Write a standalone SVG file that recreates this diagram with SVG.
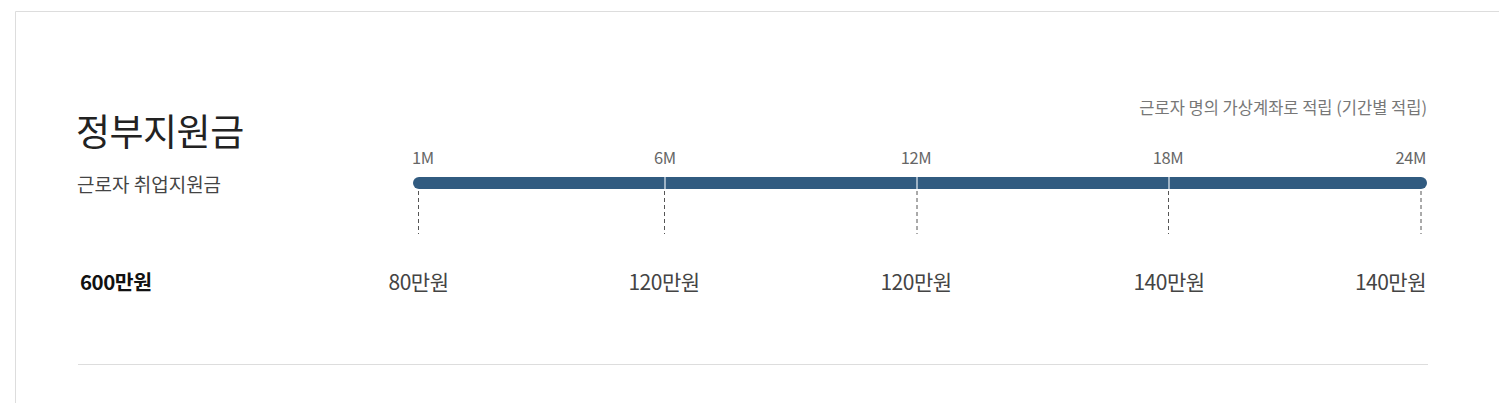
<svg xmlns="http://www.w3.org/2000/svg" width="1499" height="403" viewBox="0 0 1499 403">
<style>
text{font-family:"Noto Sans CJK KR","Noto Sans",sans-serif}
.m{font-size:16.5px;fill:#666;letter-spacing:-0.4px}
.amt{font-size:21px;fill:#444;text-anchor:middle;letter-spacing:-0.5px}
.dash{stroke:#555;stroke-width:1;stroke-dasharray:4 3}
.div{stroke:#e8eef4;stroke-width:1.2}
</style>
<rect x="0" y="0" width="1499" height="403" fill="#fff"/>
<g id="frame">
<path d="M15.5 403 V11.5 H1499" fill="none" stroke="#ddd" stroke-width="1"/>
<line x1="78" y1="364.5" x2="1428" y2="364.5" stroke="#ddd" stroke-width="1.2"/>
</g>
<g id="title">
<text x="76" y="146" font-size="37" fill="#222" letter-spacing="-0.5">정부지원금</text>
<text x="77" y="192" font-size="19" fill="#444">근로자 취업지원금</text>
<text x="80" y="290" font-size="20.5" font-weight="bold" fill="#111" letter-spacing="-0.5">600만원</text>
</g>
<g id="note">
<text x="1427" y="114" font-size="16.5" fill="#777" text-anchor="end">근로자 명의 가상계좌로 적립 (기간별 적립)</text>
</g>
<g id="bar">
<rect x="413" y="177" width="1014" height="12" rx="6" fill="#315b80"/>
<line class="div" x1="665" y1="177" x2="665" y2="189"/>
<line class="div" x1="917" y1="177" x2="917" y2="189"/>
<line class="div" x1="1169" y1="177" x2="1169" y2="189"/>
</g>
<g id="connectors">
<line class="dash" x1="418.5" y1="191" x2="418.5" y2="234"/>
<line class="dash" x1="664.5" y1="191" x2="664.5" y2="234"/>
<line class="dash" x1="917" y1="191" x2="917" y2="234"/>
<line class="dash" x1="1168.5" y1="191" x2="1168.5" y2="234"/>
<line class="dash" x1="1421" y1="191" x2="1421" y2="234"/>
</g>
<g id="tick-1m"><text class="m" x="412" y="164">1M</text><text class="amt" x="418.5" y="290">80만원</text></g>
<g id="tick-6m"><text class="m" x="665" y="164" text-anchor="middle">6M</text><text class="amt" x="664" y="290">120만원</text></g>
<g id="tick-12m"><text class="m" x="916" y="164" text-anchor="middle">12M</text><text class="amt" x="916" y="290">120만원</text></g>
<g id="tick-18m"><text class="m" x="1168" y="164" text-anchor="middle">18M</text><text class="amt" x="1169" y="290">140만원</text></g>
<g id="tick-24m"><text class="m" x="1426" y="164" text-anchor="end">24M</text><text class="amt" x="1426" y="290" style="text-anchor:end">140만원</text></g>
</svg>
